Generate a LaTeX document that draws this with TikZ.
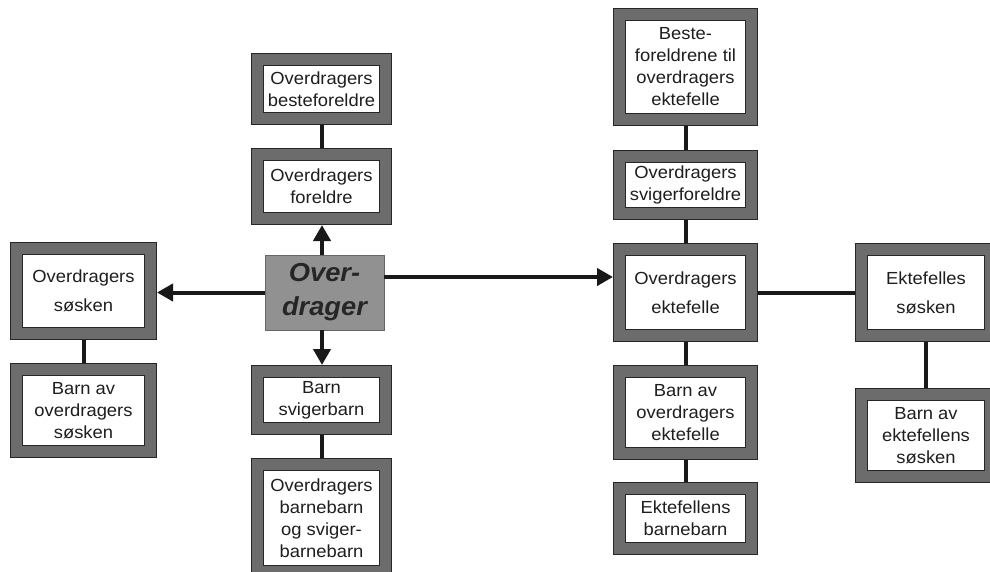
\documentclass[tikz,border=0pt]{standalone}
\usepackage{fontspec}
\setmainfont{Liberation Sans}[FakeStretch=1.05]
\usetikzlibrary{arrows.meta}
\definecolor{framegray}{RGB}{108,108,108}
\definecolor{ovgray}{RGB}{145,145,145}
\definecolor{txt}{RGB}{30,30,30}
\tikzset{
  famb/.style={draw=black!85, line width=0.8pt, double=framegray, double distance=11pt,
    fill=white, outer sep=6.3pt, inner sep=0pt, align=center, text=txt,
    font=\fontsize{17.5}{22}\selectfont},
  ovbox/.style={draw=black!60, line width=0.8pt, fill=ovgray, outer sep=0.4pt, inner sep=0pt,
    align=center, text=black!85, font=\fontsize{26}{34}\selectfont\bfseries\itshape},
  link/.style={line width=4pt, draw=black!90},
  arr/.style={link, -{Triangle[length=16pt,width=17pt]}},
}
\newcommand{\bx}[6]{%
  \node[famb, minimum width={#4-#2-12.6}, minimum height={#5-#3-12.6}]
    (#1) at ({(#2+#4)/2},{(#3+#5)/2}) {#6};}
\begin{document}
\begin{tikzpicture}[x=1pt,y=-1pt]
\clip (0,0) rectangle (990,572);
\fill[white] (0,0) rectangle (990,572);
% boxes
\bx{sos}{10}{242}{157}{340}{Overdragers\\[7pt]søsken}
\bx{bsos}{10}{363}{157}{458}{Barn av\\overdragers\\søsken}
\bx{bf}{251}{53}{392}{125}{Overdragers\\besteforeldre}
\bx{fo}{251}{148}{392}{225}{Overdragers\\foreldre}
\node[ovbox, minimum width=119, minimum height=75] (ov) at (324.5,292.5) {Over-\\drager};
\bx{bs}{251}{365}{392}{435}{Barn\\svigerbarn}
\bx{bb}{251}{458}{392}{578}{Overdragers\\barnebarn\\og sviger-\\barnebarn}
\bx{bfe}{613}{8}{758}{126}{Beste-\\foreldrene til\\overdragers\\ektefelle}
\bx{sf}{613}{150}{758}{220}{Overdragers\\svigerforeldre}
\bx{ek}{613}{243}{758}{342}{Overdragers\\[7pt]ektefelle}
\bx{bek}{613}{365}{758}{460}{Barn av\\overdragers\\ektefelle}
\bx{ebb}{613}{482}{758}{555}{Ektefellens\\barnebarn}
\bx{es}{855}{243}{997}{342}{Ektefelles\\[7pt]søsken}
\bx{bes}{855}{388}{997}{483}{Barn av\\ektefellens\\søsken}
% connectors
\draw[arr] (ov.west) -- (ov.west -| sos.east);
\draw[arr] ([yshift=15.5pt]ov.east) -- ([yshift=15.5pt]ov.east -| ek.west);
\draw[arr] ([xshift=-2.5pt]ov.north) -- ([xshift=-2.5pt]ov.north |- fo.south);
\draw[arr] ([xshift=-2.5pt]ov.south) -- ([xshift=-2.5pt]ov.south |- bs.north);
\draw[link] (bf.south) -- (fo.north);
\draw[link] (bs.south) -- (bb.north);
\draw[link] (sos.south) -- (bsos.north);
\draw[link] (bfe.south) -- (sf.north);
\draw[link] (sf.south) -- (ek.north);
\draw[link] (ek.south) -- (bek.north);
\draw[link] (bek.south) -- (ebb.north);
\draw[link] (ek.east) -- (es.west);
\draw[link] (es.south) -- (bes.north);
\end{tikzpicture}
\end{document}
